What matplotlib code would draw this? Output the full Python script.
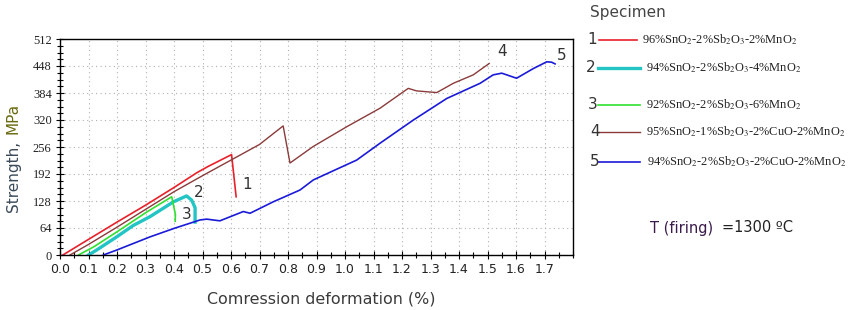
import matplotlib
matplotlib.use("Agg")
import matplotlib.pyplot as plt
from matplotlib.lines import Line2D
from matplotlib.ticker import MultipleLocator
import numpy as np

plt.rcParams['mathtext.fontset'] = 'stix'

# ---- data ----
x1 = [0.01, 0.10, 0.20, 0.30, 0.40, 0.48, 0.52, 0.602, 0.618]
y1 = [0, 37, 78, 118, 160, 195, 210, 238, 138]

x2 = [0.10, 0.129, 0.199, 0.257, 0.316, 0.398, 0.444, 0.462, 0.474, 0.474]
y2 = [0, 12, 43, 70, 91, 126, 140, 130, 112, 78]

x3 = [0.065, 0.12, 0.20, 0.30, 0.392, 0.40, 0.405, 0.404]
y3 = [0, 20, 55, 100, 138, 112, 96, 80]

x4 = [0.035, 0.10, 0.20, 0.30, 0.40, 0.50, 0.60, 0.70, 0.783, 0.807, 0.888, 1.006,
      1.123, 1.222, 1.251, 1.322, 1.38, 1.45, 1.506]
y4 = [0, 25, 66, 108, 150, 188, 225, 262, 306, 218, 257, 304,
      348, 395, 389, 385, 407, 427, 454]

x5 = [0.152, 0.20, 0.316, 0.40, 0.491, 0.515, 0.561, 0.643, 0.667, 0.748, 0.842,
      0.889, 0.96, 1.041, 1.123, 1.24, 1.357, 1.474, 1.52, 1.55, 1.602, 1.661,
      1.708, 1.725, 1.737]
y5 = [0, 12, 43, 63, 83, 85, 81, 103, 99, 126, 154,
      178, 200, 225, 265, 320, 371, 407, 427, 431, 419, 442,
      458, 457, 453]

series = [
    (x1, y1, '#e8202a', 1.2),
    (x2, y2, '#22c4c4', 2.4),
    (x3, y3, '#30e030', 1.2),
    (x4, y4, '#8b3a3a', 1.0),
    (x5, y5, '#1a1ad8', 1.2),
]

curve_labels = ['1', '2', '3', '4', '5']
label_pos = [(0.64, 168), (0.47, 148), (0.428, 95), (1.535, 482), (1.745, 474)]

legend_names = [
    r'96%SnO$_2$-2%Sb$_2$O$_3$-2%MnO$_2$',
    r'94%SnO$_2$-2%Sb$_2$O$_3$-4%MnO$_2$',
    r'92%SnO$_2$-2%Sb$_2$O$_3$-6%MnO$_2$',
    r'95%SnO$_2$-1%Sb$_2$O$_3$-2%CuO-2%MnO$_2$',
    r'94%SnO$_2$-2%Sb$_2$O$_3$-2%CuO-2%MnO$_2$',
]

xticks = [round(0.1 * i, 1) for i in range(18)]
yticks = [0, 64, 128, 192, 256, 320, 384, 448, 512]

# ---- figure ----
W, H = 857, 310
fig = plt.figure(figsize=(W / 100, H / 100), dpi=100)
ax = fig.add_axes([60 / W, 1 - 255 / H, (573 - 60) / W, (255 - 39) / H])

for xs, ys, c, lw in series:
    ax.plot(xs, ys, color=c, lw=lw, solid_joinstyle='round')

for lab, (lx, ly) in zip(curve_labels, label_pos):
    ax.text(lx, ly, lab, fontsize=11, color='#333333', ha='left', va='center',
            family='DejaVu Sans')

ax.set_xlim(0, 1.8)
ax.set_ylim(0, 512)
ax.set_xticks(xticks)
ax.set_xticklabels([f'{t:.1f}' for t in xticks], fontsize=9, family='DejaVu Sans')
ax.set_yticks(yticks)
ax.set_yticklabels([str(t) for t in yticks], fontsize=9, family='Liberation Serif')
ax.xaxis.set_minor_locator(MultipleLocator(0.05))
ax.yaxis.set_minor_locator(MultipleLocator(16))
ax.tick_params(which='both', direction='inout', length=6, width=0.8, color='black')
ax.tick_params(which='minor', length=5)
ax.tick_params(axis='both', which='major', pad=3, labelcolor='#222222')
ax.tick_params(top=False, right=False, which='both')
ax.grid(True, which='major', color='#b0b0b0', linestyle=(0, (1, 3)), lw=0.8)
for s in ax.spines.values():
    s.set_linewidth(1.0)
    s.set_color('black')

# axis labels
fig.text(321 / W, 1 - 299 / H, 'Comression deformation (%)', fontsize=11.4,
         color='#3a3a3a', ha='center', va='center', family='DejaVu Sans')
fig.text(13 / W, 1 - 176 / H, 'Strength,', fontsize=11, color='#3a4a5a',
         rotation=90, ha='center', va='center', family='DejaVu Sans')
fig.text(13 / W, 1 - 118 / H, 'MPa', fontsize=11, color='#6a6a10',
         rotation=90, ha='center', va='center', family='DejaVu Sans')

# legend
fig.text(590 / W, 1 - 13 / H, 'Specimen', fontsize=11, color='#444444',
         ha='left', va='center', family='DejaVu Sans')
rows_y = [40, 68, 105, 132, 162]
num_x = [587, 586, 588, 590, 590]
line_x = [(599, 637), (598, 640), (598, 640), (598, 640), (598, 640)]
text_x = [642, 646, 646, 646, 647]
for i, (xs, ys, c, lw) in enumerate(series):
    yy = 1 - rows_y[i] / H
    fig.text(num_x[i] / W, yy, curve_labels[i], fontsize=11, color='#333333',
             ha='left', va='center', family='DejaVu Sans')
    fig.add_artist(Line2D([line_x[i][0] / W, line_x[i][1] / W], [yy, yy],
                          color=c, lw=lw, transform=fig.transFigure))
    fig.text(text_x[i] / W, yy, legend_names[i], fontsize=8.9, color='#222222',
             ha='left', va='center', family='Liberation Serif')

fig.text(650 / W, 1 - 228 / H, 'T (firing)', fontsize=10.5, color='#3a1a4a',
         ha='left', va='center', family='DejaVu Sans')
fig.text(722 / W, 1 - 228 / H, '=1300 ºC', fontsize=10.5, color='#222222',
         ha='left', va='center', family='DejaVu Sans')

fig.savefig('out.png', dpi=100, facecolor='white')
